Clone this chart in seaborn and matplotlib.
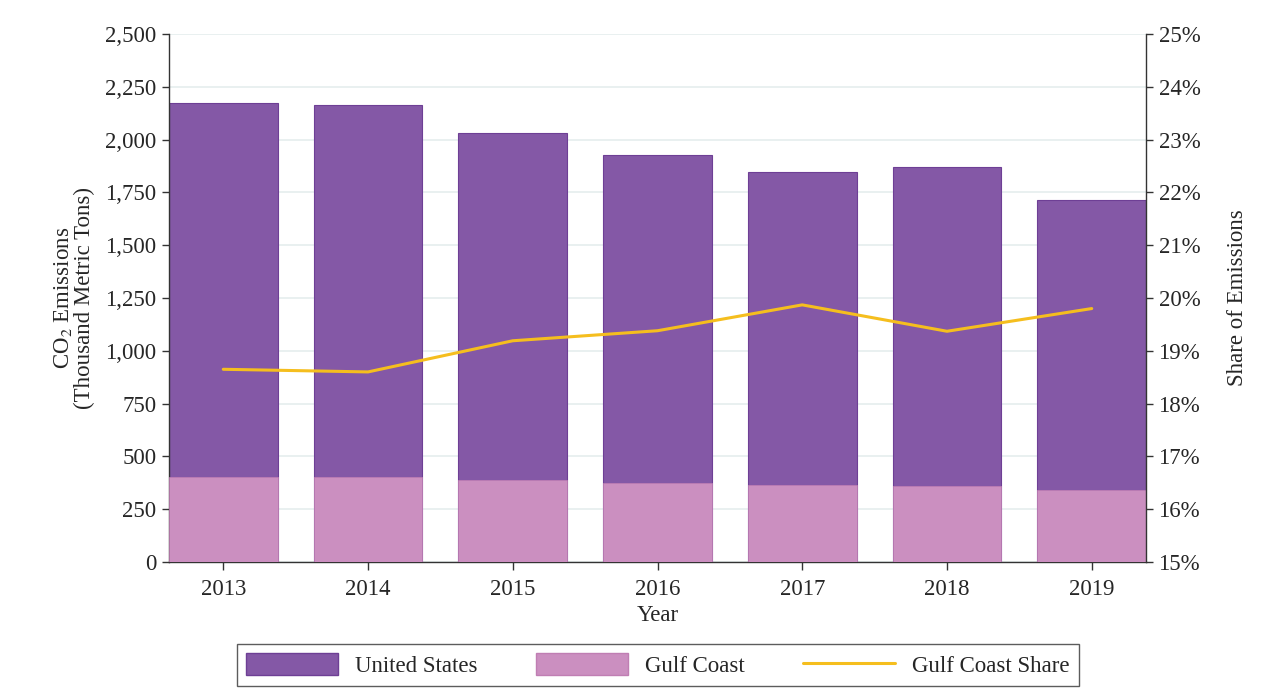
import numpy as np
import pandas as pd
import seaborn as sns
import matplotlib
matplotlib.use("Agg")
import matplotlib.pyplot as plt
from matplotlib.patches import Patch
from matplotlib.lines import Line2D
from matplotlib.ticker import FuncFormatter, MultipleLocator

years = ["2013", "2014", "2015", "2016", "2017", "2018", "2019"]
us_emissions = [2172, 2166, 2031, 1929, 1846, 1870, 1716]
gulf_emissions = [404, 401, 389, 374, 366, 361, 341]
gulf_share = [18.65, 18.60, 19.19, 19.38, 19.87, 19.37, 19.80]

sns.set_theme(style="white")
plt.rcParams["font.family"] = ["Liberation Serif", "DejaVu Serif"]
plt.rcParams["mathtext.fontset"] = "stix"

us_color = "#8458A6"
gulf_color = "#CB8FC0"
line_color = "#F5BE1E"
fs = 16.5

df = pd.DataFrame({"Year": years, "US": us_emissions, "Gulf": gulf_emissions,
                   "Share": gulf_share})

fig = plt.figure(figsize=(12.68, 6.96), dpi=100)
ax = fig.add_axes([169/1268, 1-562/696, (1146-169)/1268, (562-34)/696])

sns.barplot(data=df, x="Year", y="US", color=us_color, width=0.75, ax=ax,
            saturation=1, edgecolor="#6E3F95", linewidth=0.8, zorder=2)
sns.barplot(data=df, x="Year", y="Gulf", color=gulf_color, width=0.75, ax=ax,
            saturation=1, edgecolor="#C07EB3", linewidth=0.5, zorder=3)

ax.set_xlim(-0.375, len(years) - 0.625)
ax.set_ylim(0, 2500)
ax.yaxis.set_major_locator(MultipleLocator(250))
ax.yaxis.set_major_formatter(FuncFormatter(lambda v, p: f"{int(v):,}"))
ax.set_axisbelow(True)
ax.grid(axis="y", color="#E5EEEE", linewidth=1.2, zorder=0)
ax.grid(axis="x", visible=False)

for s in ["top", "right"]:
    ax.spines[s].set_visible(False)
for s in ["left", "bottom"]:
    ax.spines[s].set_color("#333333")
    ax.spines[s].set_linewidth(1.0)
ax.tick_params(axis="y", which="major", direction="out", length=5, width=1,
               color="#333333", labelsize=fs, left=True, pad=4)
ax.tick_params(axis="x", which="major", direction="out", length=6, width=1,
               color="#333333", labelsize=fs, bottom=True, pad=6)
ax.set_xlabel("Year", fontsize=fs, labelpad=4)
ax.set_ylabel("CO$_2$ Emissions\n(Thousand Metric Tons)", fontsize=fs, labelpad=7,
              linespacing=1.0)

ax2 = ax.twinx()
sns.lineplot(x=np.arange(len(years)), y=gulf_share, ax=ax2, color=line_color,
             linewidth=2.2, zorder=5)
ax2.set_ylim(15, 25)
ax2.yaxis.set_major_locator(MultipleLocator(1))
ax2.yaxis.set_major_formatter(FuncFormatter(lambda v, p: f"{int(round(v))}%"))
ax2.grid(False)
for s in ["top", "left", "bottom"]:
    ax2.spines[s].set_visible(False)
ax2.spines["right"].set_color("#333333")
ax2.spines["right"].set_linewidth(1.0)
ax2.tick_params(axis="y", direction="out", length=5, width=1, color="#333333",
                labelsize=fs, right=True, pad=4)
ax2.set_ylabel("Share of Emissions", fontsize=fs, labelpad=19)
ax.set_xlim(-0.375, len(years) - 0.625)

handles = [Patch(facecolor=us_color, edgecolor="#6E3F95", label="United States"),
           Patch(facecolor=gulf_color, edgecolor="#C07EB3", label="Gulf Coast"),
           Line2D([0], [0], color=line_color, linewidth=2.2, label="Gulf Coast Share")]
leg = fig.legend(handles=handles, loc="center", bbox_to_anchor=(658/1268, 1-665/696),
                 ncol=3, fontsize=fs, frameon=True, fancybox=False,
                 handlelength=4.0, handleheight=1.1, columnspacing=2.55,
                 handletextpad=0.75, borderpad=0.4, borderaxespad=0)
leg.get_frame().set_edgecolor("#333333")
leg.get_frame().set_linewidth(1.0)

fig.savefig("out.png", dpi=100, facecolor="white")
